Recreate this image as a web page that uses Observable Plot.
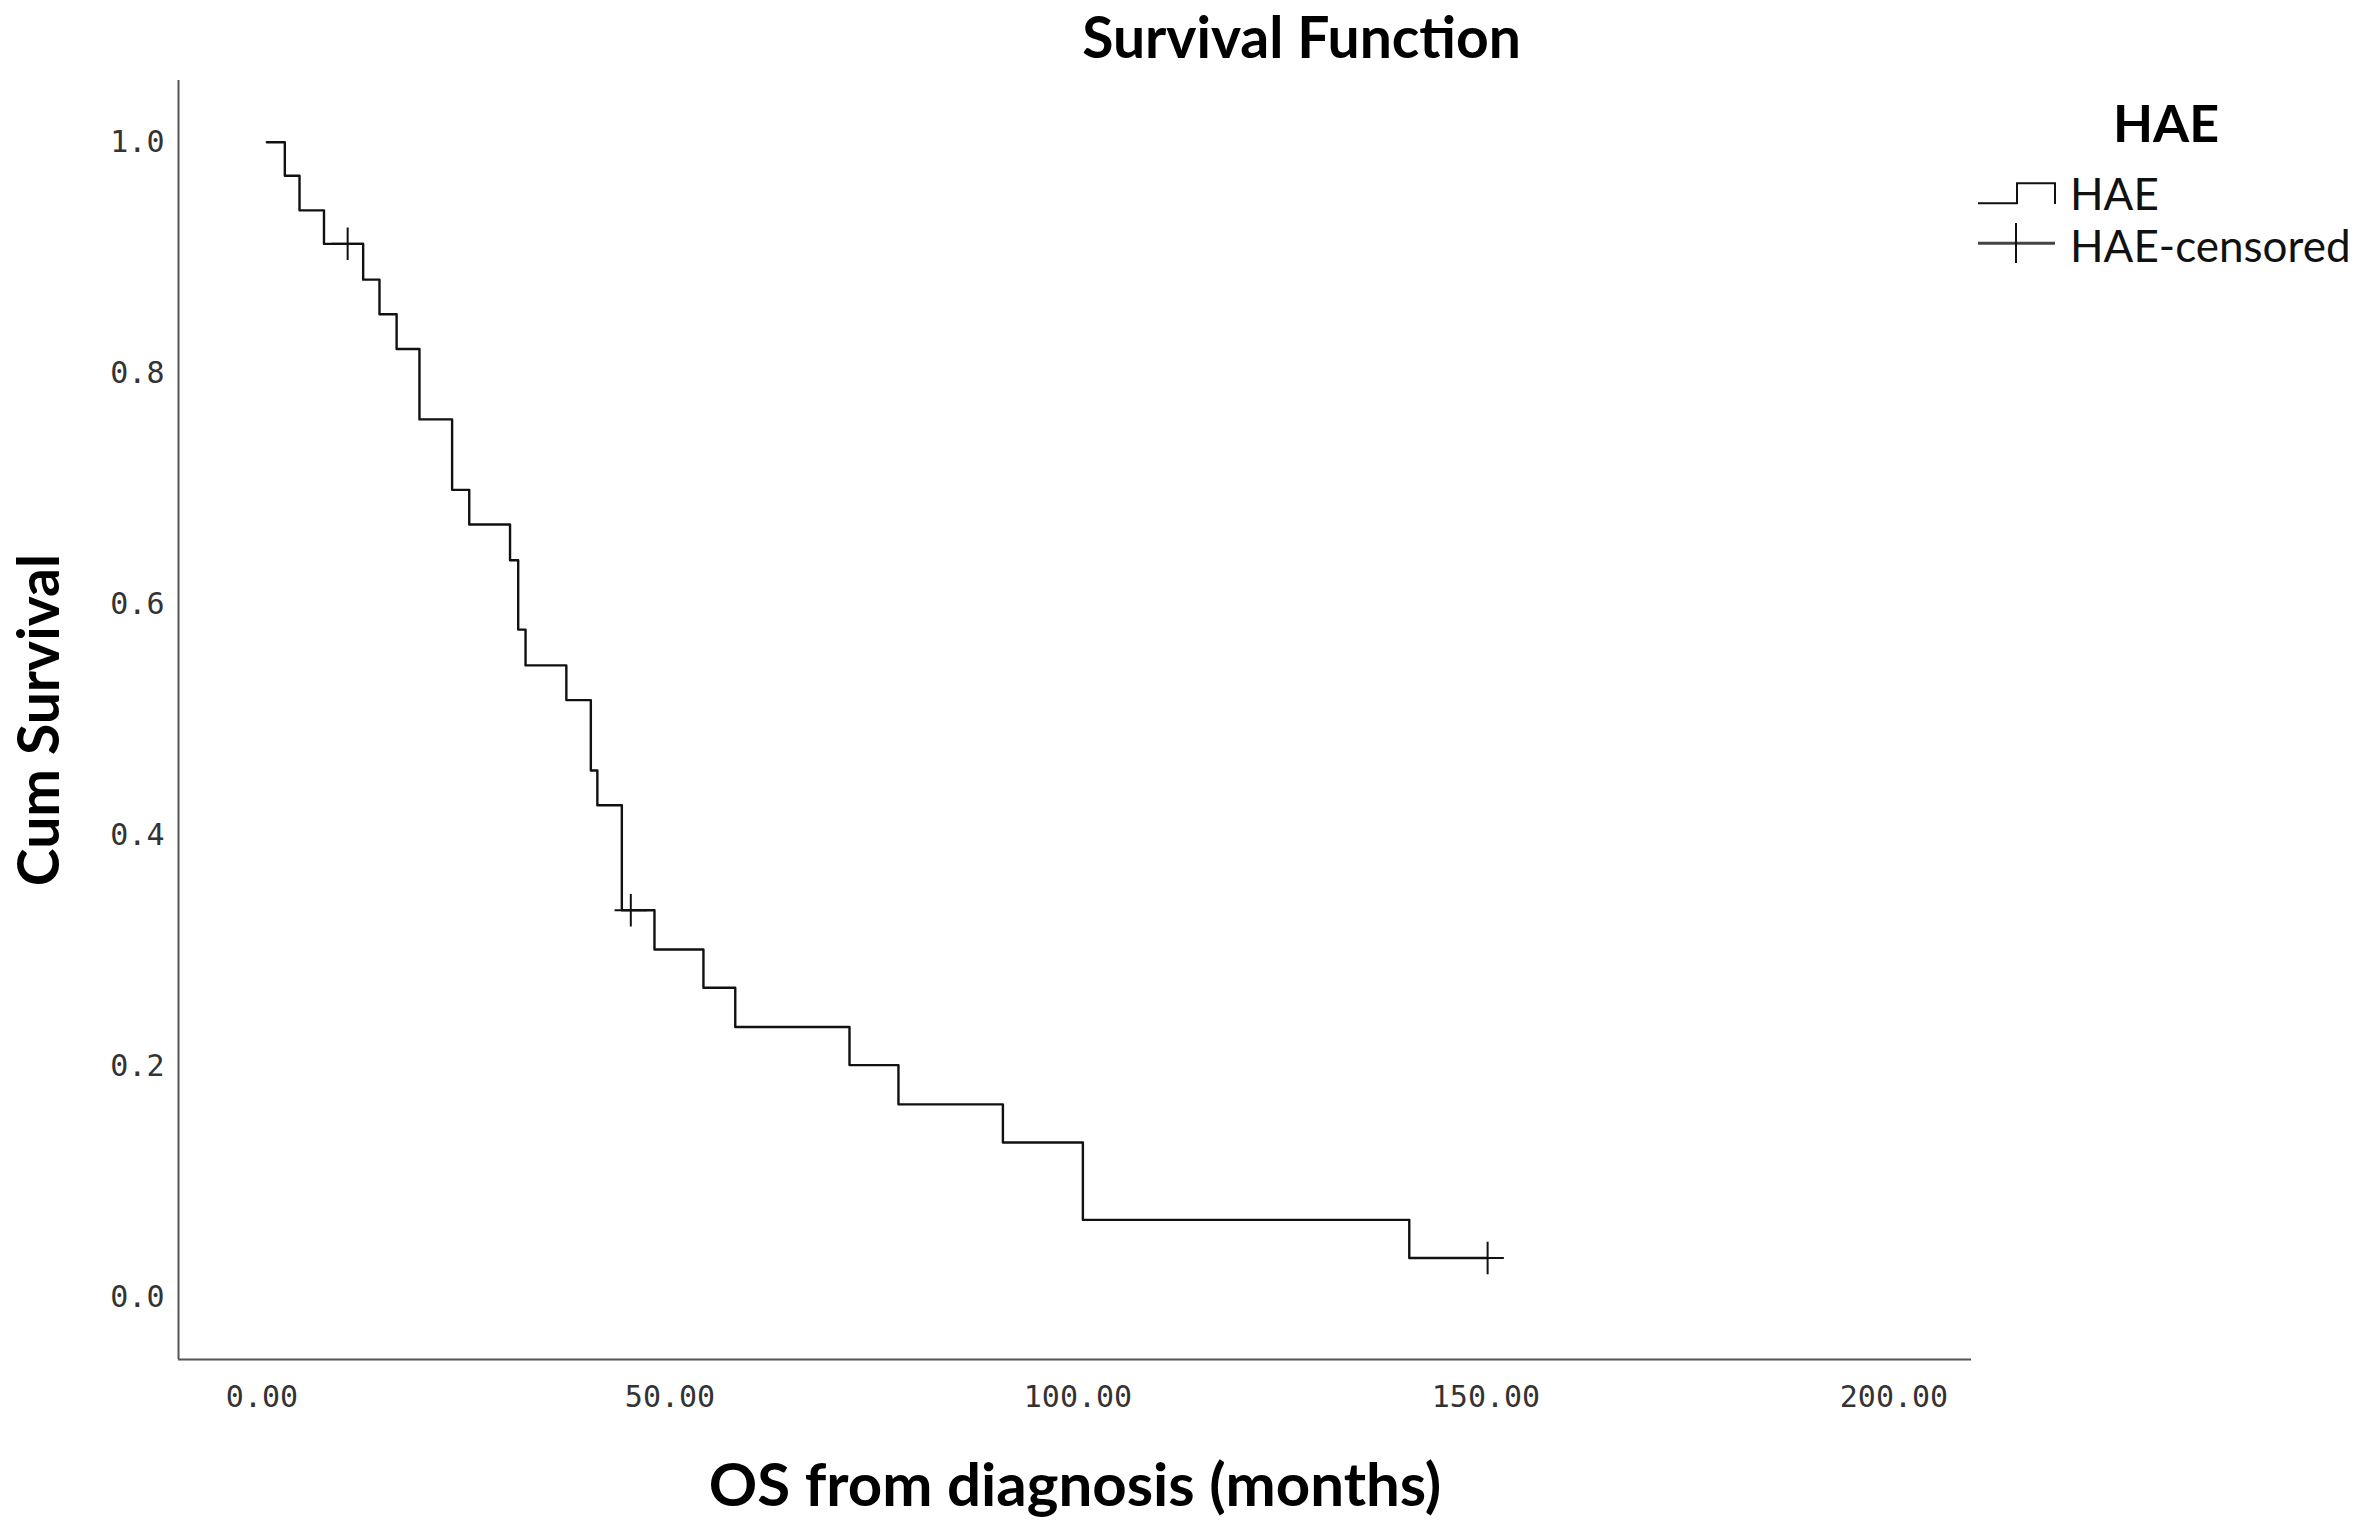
<!DOCTYPE html>
<html>
<head>
<meta charset="utf-8">
<script src="https://cdn.jsdelivr.net/npm/d3@7"></script>
<script src="https://cdn.jsdelivr.net/npm/@observablehq/plot@0.6"></script>
<style>
  html, body { margin: 0; padding: 0; background: #fff; overflow: hidden; }
  #wrap { position: relative; width: 2365px; height: 1526px; background: #fff; }
  #title {
    height: 78px; line-height: 72px; box-sizing: border-box; padding-left: 238px;
    text-align: center; font-family: Lato, "Open Sans", sans-serif; font-weight: 700;
    font-size: 57px; color: #000; white-space: nowrap;
  }
  #legend { position: absolute; left: 0; top: 0; pointer-events: none; }
</style>
</head>
<body>
<div id="wrap">
  <div id="title">Survival Function</div>
  <div id="chart"></div>
</div>
<script>
// ---- Data (Kaplan–Meier steps) ----
const eventTimes = [0.6, 2.8, 4.6, 7.6, 12.4, 14.4, 16.5, 19.3, 23.3, 25.4, 30.4, 31.4, 32.3,
                    37.3, 40.3, 41.1, 44.1, 48.1, 54.1, 58.0, 72.0, 78.0, 90.8, 100.6, 140.6];
const survival   = [1.0, 0.971, 0.941, 0.912, 0.881, 0.851, 0.821, 0.760, 0.699, 0.669, 0.638, 0.578, 0.547,
                    0.517, 0.456, 0.426, 0.335, 0.301, 0.268, 0.234, 0.201, 0.167, 0.134, 0.067, 0.034];
const censoredTimes    = [10.5, 45.2, 150.2];
const censoredSurvival = [0.912, 0.335, 0.034];

const xTicks = [0, 50, 100, 150, 200];
const yTicks = [0, 0.2, 0.4, 0.6, 0.8, 1.0];
const xDomain = [-10.23, 209.5];
const yDomain = [-0.0539, 1.0534];

const titleText = "Survival Function";
const xTitle = "OS from diagnosis (months)";
const yTitle = "Cum Survival";
const legendTitle = "HAE";
const legendLabels = ["HAE", "HAE-censored"];

// step curve: events, extended to the last censored time
const curve = eventTimes.map((t, i) => ({t, s: survival[i]}));
curve.push({t: censoredTimes[censoredTimes.length - 1], s: survival[survival.length - 1]});
const censored = censoredTimes.map((t, i) => ({t, s: censoredSurvival[i]}));

document.getElementById("title").textContent = titleText;

const chart = Plot.plot({
  width: 2365,
  height: 1448,
  marginTop: 2,
  marginLeft: 178,
  marginRight: 394,
  marginBottom: 167,
  x: {domain: xDomain},
  y: {domain: yDomain},
  style: {fontFamily: "'DejaVu Sans Mono', monospace", fontSize: "30px", color: "#333", background: "#fff"},
  marks: [
    Plot.axisX(xTicks, {tickSize: 0, tickPadding: 26, tickFormat: d => d.toFixed(2), label: null}),
    Plot.axisY(yTicks, {tickSize: 0, tickPadding: 14, tickFormat: d => d.toFixed(1), label: null}),
    Plot.ruleX([xDomain[0]], {stroke: "#555", strokeWidth: 2}),
    Plot.ruleY([yDomain[0]], {stroke: "#555", strokeWidth: 2}),
    Plot.line(curve, {x: "t", y: "s", curve: "step-after", stroke: "#111", strokeWidth: 2.4}),
    Plot.dot(censored, {x: "t", y: "s", symbol: "plus", r: 10.5, stroke: "#111", strokeWidth: 2}),
    Plot.text([xTitle], {text: d => d, frameAnchor: "bottom", dy: 146, lineAnchor: "bottom", textAnchor: "middle",
      fontFamily: "Lato, 'Open Sans', sans-serif", fontWeight: 700, fontSize: 60, fill: "#000"}),
    Plot.text([yTitle], {text: d => d, frameAnchor: "left", dx: -120, rotate: -90, lineAnchor: "bottom", textAnchor: "middle",
      fontFamily: "Lato, 'Open Sans', sans-serif", fontWeight: 700, fontSize: 57, fill: "#000"})
  ]
});
document.getElementById("chart").appendChild(chart);

// ---- Legend (top right) ----
const ns = "http://www.w3.org/2000/svg";
const lg = document.createElementNS(ns, "svg");
lg.setAttribute("id", "legend");
lg.setAttribute("width", 2365);
lg.setAttribute("height", 300);
lg.innerHTML = `
  <text x="2166" y="141.7" text-anchor="middle" font-family="Lato, 'Open Sans', sans-serif" font-weight="700" font-size="52" fill="#000">${legendTitle}</text>
  <path d="M1978,203.3 H2017 V183.3 H2055 V204" fill="none" stroke="#111" stroke-width="2"/>
  <text x="2070" y="210" font-family="Lato, 'Open Sans', sans-serif" font-size="44" fill="#111">${legendLabels[0]}</text>
  <path d="M1978,243.3 H2055" fill="none" stroke="#444" stroke-width="3"/>
  <path d="M2016,223 V263" fill="none" stroke="#111" stroke-width="2"/>
  <text x="2070" y="261.7" font-family="Lato, 'Open Sans', sans-serif" font-size="44" fill="#111">${legendLabels[1]}</text>
`;
document.getElementById("wrap").appendChild(lg);
</script>
</body>
</html>
